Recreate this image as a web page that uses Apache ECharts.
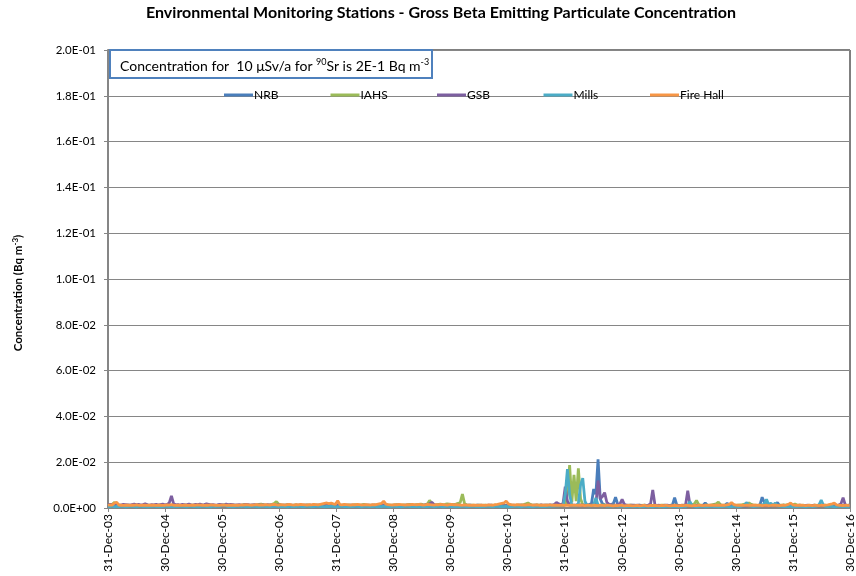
<!DOCTYPE html>
<html>
<head>
<meta charset="utf-8">
<script src="https://cdn.jsdelivr.net/npm/echarts@6/dist/echarts.min.js"></script>
<style>html,body{margin:0;padding:0;background:#fff}#c{width:856px;height:576px}</style>
</head>
<body>
<div id="c"></div>
<script>
// Sample spacing (days between samples, starting 31-Dec-2003) and value unit (Bq m^-3)
const STEP_DAYS = 14;
const UNIT = 1e-4;

const seriesNames = ['NRB', 'IAHS', 'GSB', 'Mills', 'Fire Hall'];

// values in units of 1e-4 Bq m^-3, one per sample
const nrb = [
10,9,11,8,12,10,9,11,10,8, 9,11,10,12,9,8,10,11,9,10, 11,9,10,8,12,11,9,10,13,10, 9,10,8,11,10,9,12,10,8,9,
10,11,9,10,8,12,10,9,11,10, 9,8,10,11,9,10,12,9,10,8, 11,10,9,12,10,8,9,11,10,9, 10,12,9,8,11,10,13,11,9,10,
9,10,11,8,10,12,9,10,11,9, 10,9,12,11,10,8,9,11,10,12, 11,10,9,12,14,11,10,9,11,10, 9,11,10,8,12,10,9,11,10,9,
10,12,9,11,10,13,12,10,9,11, 10,9,11,10,8,10,12,9,10,11, 9,10,11,9,12,10,9,11,10,8, 10,9,11,10,12,9,10,8,11,10,
9,11,10,12,10,9,11,10,8,10, 11,9,10,12,9,10,11,9,10,8, 10,11,9,12,10,9,11,10,9,10, 11,10,12,9,10,11,9,10,12,10,
9,11,10,12,10,11,13,12,10,14, 16,12,11,10,12,11,13,10,12,14, 15,20,83,60,213,40,18,14,12,11, 15,20,47,16,12,13,10,9,11,10,
9,8,10,9,11,8,9,10,9,12, 10,9,8,10,9,11,9,10,14,45, 12,9,10,8,9,10,11,9,10,8, 9,10,12,22,11,9,8,10,9,11,
10,9,12,21,10,9,8,10,11,9, 10,8,9,11,10,12,9,10,14,47, 25,12,10,9,11,14,24,10,9,8, 10,9,11,8,10,9,11,10,9,8,
9,10,8,11,10,9,12,10,9,8, 10,9,11,8,10,9,12,10,9,10
];
const iahs = [
12,14,16,25,13,11,12,10,11,13, 12,10,11,13,12,11,10,12,14,11, 10,12,11,13,12,10,11,14,12,11, 12,11,13,10,12,14,11,10,12,13,
11,12,10,13,11,12,14,12,11,10, 12,13,11,10,12,14,11,12,13,11, 10,12,15,13,12,11,13,12,14,16, 17,15,13,12,14,16,20,28,17,14,
12,13,15,12,11,13,14,12,13,11, 12,14,13,11,12,13,12,14,15,13, 12,14,13,12,16,14,12,13,11,12, 14,13,12,15,13,12,14,16,13,12,
13,12,14,13,15,14,13,12,14,13, 12,14,15,13,12,14,13,15,16,14, 13,15,16,17,15,14,18,33,20,15, 14,16,17,15,16,18,17,16,15,17,
20,24,61,18,14,12,13,12,11,13, 12,11,13,12,10,12,11,13,12,11, 12,13,11,12,14,12,11,13,12,14, 15,18,22,16,13,12,14,13,12,11,
12,13,11,12,14,13,12,15,13,14, 60,187,25,145,30,173,40,14,12,13, 12,14,13,12,11,13,12,14,12,11, 13,12,11,13,12,10,12,11,13,12,
11,12,10,13,11,12,11,10,12,11, 12,10,11,12,13,11,10,12,11,13, 12,11,10,13,12,11,12,14,18,33, 15,12,11,13,12,11,14,16,18,26,
14,12,11,13,12,10,12,11,13,14, 15,17,19,22,16,13,12,11,13,12, 11,12,13,11,12,10,11,13,12,14, 13,15,17,14,17,13,12,11,12,10,
11,12,10,13,11,12,10,11,12,10, 11,10,12,11,10,12,11,10,12,11
];
const gsb = [
14,16,13,15,17,14,13,16,15,14, 13,15,17,14,16,13,15,18,14,13, 15,14,16,13,15,17,14,16,22,53, 18,14,15,13,16,14,15,17,14,13,
16,15,17,14,15,18,16,14,15,13, 14,16,15,13,17,14,16,15,13,14, 15,13,14,16,15,13,14,15,13,14, 13,14,12,15,13,14,12,13,14,12,
13,12,14,13,12,11,13,12,14,13, 12,13,11,12,14,12,13,11,12,13, 12,11,13,12,14,13,12,11,13,12, 11,12,13,11,12,10,12,11,13,12,
11,13,12,10,12,11,13,12,11,10, 12,11,13,12,10,11,12,13,11,12, 11,12,10,13,12,14,16,18,25,15, 12,11,13,12,10,12,11,13,12,11,
12,11,10,12,11,13,12,10,11,12, 11,12,10,11,13,12,11,10,12,11, 12,10,11,13,12,11,12,10,13,12, 11,12,10,12,11,13,12,11,14,12,
13,12,14,13,15,24,18,14,20,93, 30,14,12,13,12,14,13,12,14,13, 12,14,13,16,120,40,50,67,25,16, 14,12,13,15,18,38,16,12,11,13,
12,11,13,12,10,12,11,13,18,79, 14,11,12,10,11,13,12,10,11,12, 11,10,12,11,13,76,14,11,10,12, 11,10,12,11,10,12,11,13,10,11,
12,11,10,12,11,10,12,11,10,11, 10,12,11,10,12,11,10,12,11,10, 11,10,12,11,10,12,11,10,11,12, 10,11,12,10,11,10,12,11,10,11,
12,10,11,12,10,11,10,12,11,10, 11,12,10,11,13,18,45,14,11,12
];
const mills = [
7,6,8,5,7,6,8,7,5,6, 8,7,6,5,7,8,6,7,5,6, 7,8,6,7,5,6,8,7,6,7, 5,7,6,8,7,6,5,7,8,6,
7,5,6,8,7,6,7,5,8,6, 8,7,12,14,9,6,7,5,6,8, 7,6,8,5,7,6,8,7,6,5, 7,8,6,7,5,6,8,7,6,7,
6,7,5,8,6,7,6,8,7,5, 6,8,7,5,6,7,8,6,7,5, 7,6,8,7,5,6,7,8,6,7, 5,7,6,8,7,6,5,7,8,6,
7,6,8,5,7,6,8,7,6,5, 7,8,6,7,5,6,8,7,6,7, 6,7,5,8,6,7,6,8,7,5, 6,8,7,5,6,7,8,6,7,5,
7,6,8,7,5,6,7,8,6,7, 5,7,6,8,7,6,5,7,8,6, 7,6,8,5,7,6,8,7,6,5, 7,8,6,7,5,6,8,7,6,7,
6,8,7,9,8,10,9,11,10,60, 170,60,12,10,9,20,100,130,30,10, 9,10,14,44,12,10,9,11,8,9, 8,9,10,8,9,7,8,6,7,8,
7,6,8,5,7,6,8,7,6,5, 7,8,6,7,5,6,8,7,6,7, 6,7,5,8,6,12,28,10,7,5, 6,8,7,5,6,7,8,6,7,5,
7,6,8,7,5,6,7,8,6,7, 10,14,24,12,8,6,7,8,9,12, 18,38,14,21,10,22,9,8,7,6, 7,6,8,5,7,6,8,7,6,5,
7,8,6,7,9,14,35,12,7,6, 8,7,5,6,8,7,6,7,5,6
];
const fireHall = [
12,14,13,22,25,13,12,11,13,12, 11,13,12,14,12,11,13,12,11,12, 13,12,11,12,13,11,12,14,13,15, 12,11,13,12,11,13,12,11,12,13,
12,14,13,12,11,13,12,14,13,12, 11,12,13,14,12,11,13,12,11,13, 12,14,13,15,14,13,12,14,15,13, 14,13,15,14,13,15,16,14,13,15,
14,13,15,16,14,13,15,14,16,15, 14,13,15,14,16,15,14,16,18,20, 22,19,21,18,16,32,15,14,16,15, 14,13,15,14,16,15,13,14,15,14,
13,15,14,16,18,20,30,17,15,14, 13,15,14,16,15,14,13,15,14,16, 15,14,16,15,13,14,16,15,14,13, 15,14,16,15,14,13,15,16,14,15,
14,13,12,14,13,12,11,13,12,11, 12,13,11,12,14,13,12,15,16,18, 20,22,30,18,15,14,13,15,14,13, 14,13,15,14,12,13,14,12,13,12,
13,12,14,11,13,12,11,13,12,11, 12,11,13,12,11,13,12,11,10,12, 11,10,12,11,10,12,11,10,12,11, 10,9,11,10,12,11,9,10,11,10,
9,10,11,9,10,12,10,9,11,10, 11,10,9,11,10,12,10,9,10,11, 10,9,11,10,12,11,10,9,11,10, 12,11,10,12,11,13,12,11,13,12,
11,13,12,14,16,24,15,13,12,11, 12,11,13,12,11,12,13,11,12,10, 11,12,10,11,13,12,11,10,12,11, 13,16,22,14,12,11,13,12,11,10,
12,11,10,12,11,10,12,11,13,14, 16,18,21,14,12,11,10,12,11,10
];
const seriesValues = [nrb, iahs, gsb, mills, fireHall];
const seriesColors = ['#4A7EBB', '#9BBB59', '#7D5FA0', '#4BACC6', '#F79646'];

// Axis ticks
const xTickDays = 365.25;
const xTickLabels = ['31-Dec-03','30-Dec-04','30-Dec-05','30-Dec-06','31-Dec-07','30-Dec-08','30-Dec-09',
  '30-Dec-10','31-Dec-11','30-Dec-12','30-Dec-13','30-Dec-14','31-Dec-15','30-Dec-16'];
const yTickStep = 0.02;
const yTickLabels = ['0.0E+00','2.0E-02','4.0E-02','6.0E-02','8.0E-02','1.0E-01','1.2E-01','1.4E-01','1.6E-01','1.8E-01','2.0E-01'];

const FONT = 'Lato, "Open Sans", sans-serif';

const chart = echarts.init(document.getElementById('c'), null, {renderer: 'canvas'});

const series = seriesNames.map((name, k) => ({
  name: name,
  type: 'line',
  data: seriesValues[k].map((v, i) => [i * STEP_DAYS, v * UNIT]),
  symbol: 'none',
  showSymbol: false,
  smooth: false,
  lineStyle: {width: 2.8, color: seriesColors[k]},
  itemStyle: {color: seriesColors[k]},
  animation: false,
  z: 2 + k
}));

// one legend block per series, in equal-width slots (as in the reference)
const LEGEND_LEFT = 224, LEGEND_SLOT = 106.5;
const legends = seriesNames.map((name, k) => ({
  data: [name],
  left: LEGEND_LEFT + k * LEGEND_SLOT,
  top: 89,
  itemWidth: 29,
  itemHeight: 3,
  icon: 'rect',
  padding: 0,
  selectedMode: false,
  textStyle: {fontFamily: FONT, fontSize: 12, color: '#000', padding: [0, 0, 0, -4]}
}));

chart.setOption({
  backgroundColor: '#fff',
  animation: false,
  title: {
    text: 'Environmental Monitoring Stations - Gross Beta Emitting Particulate Concentration',
    left: 441,
    top: 5,
    textAlign: 'center',
    padding: 0,
    textStyle: {fontFamily: FONT, fontSize: 16, fontWeight: 'bold', color: '#000'}
  },
  legend: legends,
  grid: {left: 108, right: 4, top: 50, bottom: 68, show: true, borderColor: '#000', borderWidth: 1, containLabel: false},
  xAxis: {
    type: 'value',
    min: 0,
    max: xTickDays * (xTickLabels.length - 1),
    interval: xTickDays,
    axisLine: {show: true, lineStyle: {color: '#868686', width: 1.5}},
    axisTick: {show: true, length: 4, lineStyle: {color: '#868686'}},
    splitLine: {show: false},
    axisLabel: {
      rotate: 90,
      margin: 6,
      fontFamily: FONT,
      fontSize: 12,
      color: '#000',
      showMinLabel: true,
      showMaxLabel: true,
      formatter: v => xTickLabels[Math.round(v / xTickDays)] || ''
    }
  },
  yAxis: {
    type: 'value',
    min: 0,
    max: 0.2,
    interval: yTickStep,
    name: '{a|Concentration (Bq m}{s|-3}{a|)}',
    nameLocation: 'middle',
    nameRotate: 90,
    nameGap: 83,
    nameTextStyle: {
      padding: [0, 28, 0, 0],
      rich: {
        a: {fontFamily: FONT, fontSize: 11.5, fontWeight: 'bold', color: '#000'},
        s: {fontFamily: FONT, fontSize: 8, fontWeight: 'bold', color: '#000', padding: [0, 0, 6, 0]}
      }
    },
    axisLine: {show: true, lineStyle: {color: '#868686', width: 2}},
    axisTick: {show: true, length: 4, lineStyle: {color: '#868686'}},
    splitLine: {show: true, lineStyle: {color: '#868686', width: 1}},
    axisLabel: {
      margin: 12,
      fontFamily: FONT,
      fontSize: 11.5,
      color: '#000',
      formatter: v => yTickLabels[Math.round(v / yTickStep)] || ''
    }
  },
  graphic: [
    {
      type: 'rect',
      z: 100,
      shape: {x: 110, y: 50, width: 322, height: 28},
      style: {fill: '#fff', stroke: '#4F81BD', lineWidth: 2}
    },
    {
      type: 'text',
      z: 101,
      x: 120,
      y: 66,
      style: {
        text: '{a|Concentration for  10 μSv/a for }{s|90}{a|Sr is 2E-1 Bq m}{s|-3}',
        verticalAlign: 'middle',
        rich: {
          a: {fontFamily: FONT, fontSize: 14, fill: '#000'},
          s: {fontFamily: FONT, fontSize: 9, fill: '#000', padding: [0, 0, 7, 0]}
        }
      }
    }
  ],
  series: series
});
</script>
</body>
</html>
